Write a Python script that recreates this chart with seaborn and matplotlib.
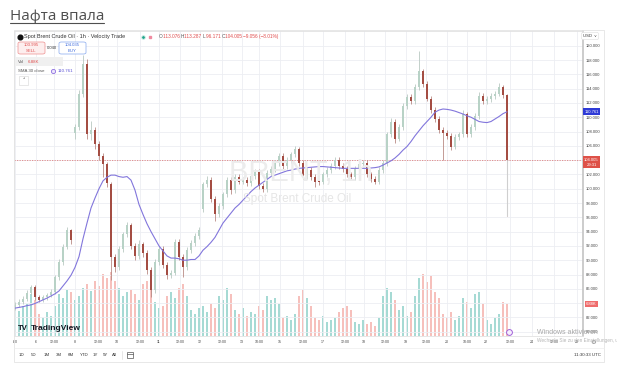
import numpy as np
import pandas as pd
import matplotlib
matplotlib.use("Agg")
import matplotlib.pyplot as plt
import matplotlib.transforms as mtransforms
from matplotlib.patches import Rectangle, FancyBboxPatch
from matplotlib.lines import Line2D
import seaborn as sns

# ---------------- data (2-hour candles) ----------------
opens = [83.4, 83.8, 84.2, 84.6, 85.4, 86.3, 84.9, 84.5, 84.8, 85.1,
         85.6, 87.6, 89.8, 91.8, 94.2, 107.8, 108.6, 113.2, 117.4, 107.6,
         108.2, 106.2, 104.6, 103.4, 100.6, 90.4, 89.0, 91.6, 93.6, 94.9,
         92.0, 90.6, 92.2, 91.0, 88.6, 85.8, 89.8, 91.6, 89.4, 88.0,
         88.2, 92.6, 90.4, 89.0, 91.4, 92.4, 93.4, 97.2, 100.6, 101.2,
         98.6, 96.4, 97.6, 99.2, 101.2, 99.8, 101.6, 101.0, 101.2, 100.8,
         101.8, 102.4, 100.4, 99.9, 102.2, 102.8, 103.6, 104.6, 103.2, 104.0,
         104.8, 105.6, 103.6, 101.8, 102.6, 101.6, 101.0, 100.9, 102.0, 102.6,
         103.2, 104.0, 103.2, 102.8, 102.0, 101.6, 102.8, 103.4, 103.6, 102.0,
         101.4, 101.0, 102.6, 103.6, 107.6, 109.4, 107.0, 108.6, 111.6, 112.8,
         112.2, 114.2, 116.4, 114.6, 112.6, 111.0, 109.8, 108.2, 107.8, 107.4,
         105.8, 107.2, 107.6, 110.4, 107.6, 108.6, 110.2, 113.0, 112.2, 112.5,
         113.0, 113.3, 114.2, 113.076]
highs = [84.2, 84.6, 85.0, 85.8, 86.6, 86.5, 85.2, 85.1, 85.4, 86.0,
         88.0, 90.2, 92.3, 94.6, 94.4, 109.0, 113.8, 118.7, 118.2, 109.5,
         108.6, 106.7, 105.0, 103.8, 101.0, 90.9, 92.0, 94.0, 95.3, 95.2,
         92.4, 92.8, 92.6, 91.4, 89.0, 90.2, 92.0, 92.0, 89.8, 88.7,
         93.0, 93.0, 90.8, 91.8, 92.8, 93.8, 94.6, 101.0, 101.8, 101.6,
         99.0, 98.0, 99.6, 101.7, 101.6, 102.1, 102.0, 101.7, 101.6, 102.2,
         102.8, 102.8, 100.8, 102.6, 103.2, 104.0, 105.0, 105.0, 104.4, 105.2,
         106.0, 105.9, 104.0, 103.0, 103.0, 102.0, 101.4, 102.4, 103.0, 103.6,
         104.5, 104.4, 103.6, 103.2, 102.4, 103.2, 103.8, 104.0, 104.0, 102.4,
         101.8, 103.0, 104.0, 108.0, 109.9, 109.7, 109.0, 112.0, 113.2, 113.2,
         114.6, 119.3, 116.8, 115.0, 113.0, 111.4, 110.2, 108.6, 108.2, 107.8,
         107.6, 108.0, 111.0, 110.8, 109.0, 110.6, 113.5, 113.4, 112.9, 113.4,
         113.7, 114.8, 114.5, 113.287]
lows = [83.0, 83.5, 83.9, 84.3, 85.1, 84.5, 84.1, 84.2, 84.5, 84.8,
        85.3, 87.3, 89.4, 91.5, 92.3, 107.0, 108.2, 112.8, 107.0, 106.8,
        105.6, 104.0, 101.7, 100.3, 87.2, 88.4, 88.6, 91.2, 93.2, 91.6,
        90.0, 90.2, 90.5, 88.1, 84.8, 85.4, 89.4, 88.9, 87.4, 87.5,
        87.9, 90.0, 87.6, 88.6, 91.0, 92.0, 93.0, 96.8, 100.2, 98.2,
        95.5, 96.0, 97.2, 98.8, 99.3, 99.4, 100.6, 100.6, 100.4, 100.4,
        101.4, 100.0, 99.5, 99.6, 101.8, 102.4, 103.2, 102.8, 102.8, 103.6,
        104.4, 103.2, 101.4, 101.4, 101.2, 100.3, 100.5, 100.6, 101.6, 102.2,
        102.8, 102.8, 102.4, 101.6, 101.2, 101.2, 102.4, 103.0, 101.6, 101.0,
        100.6, 100.7, 102.2, 103.2, 107.2, 106.4, 106.7, 108.2, 111.2, 111.8,
        111.8, 113.8, 114.2, 112.2, 110.6, 109.4, 107.8, 104.0, 107.0, 105.4,
        105.5, 106.8, 107.2, 107.2, 107.2, 108.2, 109.8, 111.8, 111.8, 112.1,
        112.6, 112.9, 112.7, 96.171]
closes = [83.8, 84.2, 84.6, 85.4, 86.3, 84.9, 84.5, 84.8, 85.1, 85.6,
          87.6, 89.8, 91.8, 94.2, 92.8, 108.6, 113.2, 117.4, 107.6, 108.2,
          106.2, 104.6, 103.4, 100.8, 90.4, 89.0, 91.6, 93.6, 94.9, 92.0,
          90.6, 92.2, 91.0, 88.6, 85.8, 89.8, 91.6, 89.4, 88.0, 88.2,
          92.6, 90.4, 89.0, 91.4, 92.4, 93.4, 94.2, 100.6, 101.2, 98.6,
          96.4, 97.6, 99.2, 101.2, 99.8, 101.6, 101.0, 101.2, 100.8, 101.8,
          102.4, 100.4, 99.9, 102.2, 102.8, 103.6, 104.6, 103.2, 104.0, 104.8,
          105.6, 103.6, 101.8, 102.6, 101.6, 101.0, 100.9, 102.0, 102.6, 103.2,
          104.0, 103.2, 102.8, 102.0, 101.6, 102.8, 103.4, 103.6, 102.0, 101.4,
          101.0, 102.6, 103.6, 107.6, 109.4, 107.0, 108.6, 111.6, 112.8, 112.2,
          114.2, 116.4, 114.6, 112.6, 111.0, 109.8, 108.2, 107.8, 107.4, 105.8,
          107.2, 107.6, 110.4, 107.6, 108.6, 110.2, 113.0, 112.2, 112.5, 113.0,
          113.3, 114.2, 113.1, 104.005]
volumes_k = [6.0, 5.4, 6.5, 6.9, 9.0, 7.7, 4.7, 3.9, 5.2, 4.3,
             6.5, 9.0, 8.2, 9.9, 9.5, 7.7, 8.6, 10.3, 11.2, 9.7,
             11.8, 10.8, 13.3, 12.5, 13.8, 11.8, 10.3, 8.6, 9.5, 9.9,
             9.0, 7.7, 11.2, 11.8, 10.8, 7.3, 6.0, 6.5, 8.6, 9.5,
             8.2, 10.3, 11.2, 8.6, 5.6, 4.7, 6.0, 6.5, 5.2, 6.9,
             6.0, 8.6, 7.7, 10.3, 9.0, 5.6, 4.7, 6.0, 4.3, 5.2,
             4.7, 6.5, 5.6, 8.6, 7.7, 8.2, 6.9, 3.9, 4.3, 3.4,
             4.7, 8.6, 9.9, 8.2, 6.5, 3.9, 3.4, 4.3, 3.0, 3.4,
             3.9, 5.2, 6.0, 6.5, 5.6, 3.0, 2.6, 3.4, 2.6, 3.0,
             2.2, 3.9, 8.6, 10.3, 9.5, 7.7, 5.6, 6.5, 4.3, 5.2,
             8.6, 12.5, 13.3, 11.6, 12.9, 9.5, 8.2, 4.7, 3.9, 5.2,
             3.4, 4.3, 8.2, 7.3, 6.0, 9.0, 9.5, 6.9, 3.4, 2.6,
             3.9, 4.7, 7.3, 6.88]
sma30 = [83.3, 83.4, 83.5, 83.65, 83.75, 83.95, 84.2, 84.45, 84.7, 85.0,
         85.3, 85.7, 86.4, 87.1, 87.9, 89.0, 90.5, 93.0, 95.2, 97.3,
         98.7, 100.0, 101.1, 101.6, 101.9, 101.9, 101.7, 101.6, 101.7, 101.2,
         99.8, 97.8, 96.4, 95.1, 94.0, 93.0, 92.0, 91.3, 90.6, 90.3,
         90.3, 90.2, 90.0, 90.0, 90.1, 90.1, 90.6, 91.4, 91.9, 92.5,
         93.2, 94.2, 95.2, 95.9, 96.6, 97.3, 97.8, 98.4, 99.0, 99.6,
         100.1, 100.5, 100.9, 101.3, 101.7, 101.9, 102.1, 102.3, 102.5, 102.6,
         102.75, 102.85, 102.9, 102.95, 103.0, 103.05, 103.1, 103.1, 103.05, 103.0,
         102.95, 102.9, 102.85, 102.85, 102.85, 102.85, 102.85, 102.85, 102.85, 102.9,
         102.95, 103.05, 103.3, 103.6, 103.9, 104.3, 104.8, 105.4, 105.9, 106.6,
         107.4, 108.1, 108.8, 109.4, 110.0, 110.7, 111.0, 111.15, 111.1, 111.0,
         110.85, 110.65, 110.45, 110.2, 110.0, 109.7, 109.4, 109.3, 109.25, 109.4,
         109.75, 110.1, 110.5, 110.761]

price_ticks = [80, 82, 84, 86, 88, 90, 92, 94, 96, 98, 100,
               102, 104, 106, 108, 110, 112, 114, 116, 118, 120]
hidden_ticks = [84, 104]   # covered by the volume / last-price tags
time_labels = [":00", "6", "12:00", "8", "12:00", "10", "12:00", "11", "12:00",
               "12", "12:00", "13", "10:00", "15", "12:00", "17", "12:00", "18",
               "12:00", "19", "12:00", "20", "10:00", "22", "12:00", "24",
               "12:00", "29"]
time_pos = [0.0, 5.2, 9.75, 15.0, 20.75, 25.5, 31.25, 36.0, 41.25,
            46.25, 51.75, 56.75, 61.0, 66.25, 72.0, 77.0, 82.5, 87.25,
            92.5, 97.75, 102.75, 108.0, 113.0, 117.75, 123.75, 129.25,
            134.75, 140.5]
range_buttons = ["1D", "5D", "1M", "3M", "6M", "YTD", "1Y", "5Y", "All"]

# ---------------- style ----------------
sns.set_theme(style="white")
plt.rcParams["font.family"] = ["Liberation Sans", "DejaVu Sans"]

W, H = 617, 377
fig = plt.figure(figsize=(W / 100, H / 100), dpi=100)
fig.patch.set_facecolor("white")


def fx(x):
    return x / W


def fy(y):
    return 1 - y / H


L, R, T, B = 14, 583, 31, 336
rect = [fx(L), fy(B), fx(R) - fx(L), fy(T) - fy(B)]
ax_v = fig.add_axes(rect)
ax = fig.add_axes(rect)
ax.patch.set_alpha(0)

o = np.array(opens)
c = np.array(closes)
h = np.array(highs)
lo = np.array(lows)
idx = np.arange(len(c))
up = c >= o

UP_BODY, DN_BODY = "#b8d2c6", "#a44d43"
UP_WICK, DN_WICK = "#b9c9c2", "#b98a84"

# ---------------- volume (seaborn barplot) ----------------
vdf = pd.DataFrame({"idx": idx, "vol": volumes_k,
                    "dir": np.where(up, "up", "down")})
sns.barplot(data=vdf, x="idx", y="vol", hue="dir",
            palette={"up": "#a6dad4", "down": "#f6c0bc"},
            native_scale=True, dodge=False, width=0.6, saturation=1,
            errorbar=None, legend=False, linewidth=0, ax=ax_v)
ax_v.set_xlim(-0.25, 142)
ax_v.set_ylim(0, 65.6)
ax_v.axis("off")

# ---------------- candles ----------------
ax.vlines(idx, lo, h, colors=np.where(up, UP_WICK, DN_WICK), lw=0.6, zorder=3)
ax.vlines(idx[-1:], lo[-1:], np.minimum(o, c)[-1:], colors="#cfcfcf", lw=0.8, zorder=3)
ax.bar(idx, np.maximum(np.abs(c - o), 0.15), bottom=np.minimum(o, c), width=0.45,
       color=np.where(up, UP_BODY, DN_BODY), linewidth=0, zorder=4)

# SMA 30
sns.lineplot(x=idx, y=sma30, ax=ax, color="#8276dc", lw=0.8, zorder=5)

ax.axhline(closes[-1], color="#e08080", lw=0.6, ls=(0, (1.5, 1.5)), zorder=2)

ax.set_xlim(-0.25, 142)
ax.set_ylim(79.4, 122.06)
ax.set_yticks(price_ticks)
ax.set_yticklabels(["" if v in hidden_ticks else f"{v:.3f}" for v in price_ticks])
ax.yaxis.tick_right()
ax.tick_params(axis="y", length=0, pad=2.2, labelsize=3.0, labelcolor="#444444")
ax.set_xticks(time_pos)
ax.set_xticklabels(time_labels)
ax.tick_params(axis="x", length=0, pad=2.6, labelsize=2.6, labelcolor="#444444")
ax.grid(True, color="#eceef2", lw=0.6)
ax.set_axisbelow(True)
ax.set_xlabel("")
ax.set_ylabel("")
for side, sp in ax.spines.items():
    sp.set_color("#e2e2e2")
    sp.set_linewidth(0.6)
ax.spines["right"].set_color("#c4c4c4")
ax.spines["right"].set_linewidth(1.2)

# watermark
fig.text(fx(301), fy(173), "BRENT, 1h", fontsize=21, color="#ececec",
         ha="center", va="center", zorder=0)
fig.text(fx(297), fy(199), "Spot Brent Crude Oil", fontsize=8.5, color="#e6e6e6",
         ha="center", va="center", zorder=0)

# price-scale tags
tr_p = mtransforms.blended_transform_factory(fig.transFigure, ax.transData)
fig.text(fx(591.5), sma30[-1], f"{sma30[-1]:.3f}", transform=tr_p, fontsize=3.0,
         color="white", ha="center", va="center", zorder=10,
         bbox=dict(boxstyle="square,pad=0.35", fc="#2e3ad6", ec="none"))
tr_p2 = mtransforms.offset_copy(tr_p, fig=fig, y=-2, units="dots")
fig.text(fx(591.5), closes[-1], f"{closes[-1]:.3f}\n29:31", transform=tr_p2,
         fontsize=3.0, color="white", ha="center", va="center", zorder=10,
         linespacing=1.3,
         bbox=dict(boxstyle="square,pad=0.35", fc="#de5148", ec="none"))
tr_v = mtransforms.blended_transform_factory(fig.transFigure, ax_v.transData)
fig.text(fx(591.5), volumes_k[-1], f"{volumes_k[-1]:.2f}K", transform=tr_v,
         fontsize=3.0, color="white", ha="center", va="center", zorder=10,
         bbox=dict(boxstyle="square,pad=0.35", fc="#ef6b6b", ec="none"))
fig.text(fx(590), fy(36), "USD  \u02c5", fontsize=3.0, color="#333333",
         ha="center", va="center",
         bbox=dict(boxstyle="round,pad=0.4", fc="white", ec="#dddddd", lw=0.4))

# widget frame
fig.add_artist(Rectangle((fx(14), fy(362)), fx(604) - fx(14), fy(30) - fy(362),
                         transform=fig.transFigure, fill=False, ec="#e4e4e4", lw=0.6))
fig.add_artist(Line2D([fx(14), fx(604)], [fy(348), fy(348)],
                      transform=fig.transFigure, color="#ededed", lw=0.5))

# ---------------- title ----------------
title = fig.text(fx(9.5), fy(19.5), "Нафта впала", fontsize=11,
                 family=["Open Sans", "DejaVu Sans"], color="#4f4f4f",
                 ha="left", va="baseline")
fig.canvas.draw()
renderer = fig.canvas.get_renderer()
bb = title.get_window_extent(renderer)
fig.add_artist(Line2D([bb.x0 / W, bb.x1 / W], [fy(22.8), fy(22.8)],
                      transform=fig.transFigure, color="#4f4f4f", lw=0.8))


def seq_text(x, y, parts, size):
    """place consecutive text pieces (string, colour) from pixel x"""
    cur = x
    for s, col in parts:
        t = fig.text(fx(cur), fy(y), s, fontsize=size, color=col,
                     ha="left", va="center")
        cur += t.get_window_extent(renderer).width
    return cur


# ---------------- legend overlay ----------------
fig.add_artist(Line2D([fx(20)], [fy(36.5)], marker="o", ms=3.4, color="#111111",
                      transform=fig.transFigure))
fig.text(fx(24.5), fy(36.5), "Spot Brent Crude Oil \u00b7 1h \u00b7 Velocity Trade",
         fontsize=4.0, color="#333333", ha="left", va="center")
fig.add_artist(Line2D([fx(143)], [fy(36.5)], marker="o", ms=2.6, mfc="#1fa38a",
                      mec="#cfeee8", mew=0.6, transform=fig.transFigure))
fig.add_artist(Line2D([fx(150)], [fy(36.5)], marker="s", ms=2.0, mfc="#f08aa0",
                      mec="#f08aa0", transform=fig.transFigure))
red = "#e04c4c"
grey = "#555555"
seq_text(159, 36.5, [("O", grey), (f"{opens[-1]:.3f} ", red),
                     ("H", grey), (f"{highs[-1]:.3f} ", red),
                     ("L", grey), (f"{lows[-1]:.3f} ", red),
                     ("C", grey), (f"{closes[-1]:.3f} ", red),
                     ("\u22129.056 (\u22128.01%)", red)], 3.4)

# sell / buy boxes
fig.add_artist(FancyBboxPatch((fx(18), fy(54)), fx(27), fx(12) * W / H,
                              boxstyle="round,pad=0,rounding_size=0.004",
                              transform=fig.transFigure, fc="#fdeeee", ec="#ee8f8f", lw=0.5))
fig.text(fx(31.5), fy(45.5), "103.995", fontsize=3.1, color=red, ha="center", va="center")
fig.text(fx(31.5), fy(51), "SELL", fontsize=3.1, color=red, ha="center", va="center")
fig.text(fx(51.5), fy(48), "0.040", fontsize=3.0, color="#333333", ha="center", va="center")
fig.add_artist(FancyBboxPatch((fx(59), fy(54)), fx(27), fx(12) * W / H,
                              boxstyle="round,pad=0,rounding_size=0.004",
                              transform=fig.transFigure, fc="white", ec="#86a8ee", lw=0.5))
fig.text(fx(72.5), fy(45.5), "104.035", fontsize=3.1, color="#3a68dd", ha="center", va="center")
fig.text(fx(72.5), fy(51), "BUY", fontsize=3.1, color="#3a68dd", ha="center", va="center")

# volume row
fig.add_artist(Rectangle((fx(15), fy(66)), fx(48), fy(57) - fy(66),
                         transform=fig.transFigure, fc="#f0f0f0", ec="none"))
fig.text(fx(18), fy(61.8), "Vol", fontsize=3.2, color=grey, ha="left", va="center")
fig.text(fx(28), fy(61.8), f"{volumes_k[-1]:.2f}K", fontsize=3.2, color=red,
         ha="left", va="center")

# SMA row
fig.text(fx(18), fy(70.6), "SMA 30 close", fontsize=3.2, color=grey, ha="left", va="center")
fig.add_artist(Line2D([fx(52.5)], [fy(70.6)], marker="o", ms=3.0, mfc="#ece6fb",
                      mec="#8e6fe0", mew=0.6, transform=fig.transFigure))
fig.text(fx(58), fy(70.6), f"{sma30[-1]:.3f}", fontsize=3.2, color="#5b52d6",
         ha="left", va="center")

fig.add_artist(Rectangle((fx(19), fy(85)), fx(9), fy(76) - fy(85),
                         transform=fig.transFigure, fc="white", ec="#dddddd", lw=0.5))
fig.text(fx(23.5), fy(80.8), "\u02c4", fontsize=3.6, color="#333333",
         ha="center", va="center", family=["DejaVu Sans"])

# bottom-left logo
fig.text(fx(18), fy(328), "TV", fontsize=5.6, color="#131722", weight="heavy",
         ha="left", va="center")
fig.text(fx(30.5), fy(328), "TradingView", fontsize=6.0, color="#131722",
         weight="bold", ha="left", va="center")

# last-bar icon and gear
fig.add_artist(Line2D([fx(508.5)], [fy(332)], marker="o", ms=4.2, mfc="#f6effd",
                      mec="#a160d8", mew=0.7, transform=fig.transFigure))
fig.text(fx(593), fy(342), "\u2699", fontsize=4.6, color="#777777",
         ha="center", va="center", family=["DejaVu Sans"])

# bottom toolbar
btn_x = [22, 34, 46.6, 59, 71, 84.5, 95.6, 105.6, 114.7]
for s, xb in zip(range_buttons, btn_x):
    fig.text(fx(xb), fy(355), s, fontsize=3.2, color="#333333", ha="center", va="center")
fig.add_artist(Line2D([fx(121.5), fx(121.5)], [fy(351), fy(359)],
                      transform=fig.transFigure, color="#dddddd", lw=0.5))
# calendar icon (drawn shape)
fig.add_artist(Rectangle((fx(127), fy(358)), fx(6), fy(352) - fy(358),
                         transform=fig.transFigure, fill=False, ec="#555555", lw=0.5))
fig.add_artist(Line2D([fx(127), fx(133)], [fy(353.8), fy(353.8)],
                      transform=fig.transFigure, color="#555555", lw=0.5))
fig.text(fx(601), fy(355), "11:30:33 UTC", fontsize=3.2, color="#333333",
         ha="right", va="center")

# OS activation watermark
fig.text(fx(537), fy(332), "Windows aktivieren", fontsize=5.0, color="#a9a9a9",
         ha="left", va="center", zorder=20)
fig.text(fx(537), fy(340.5), "Wechseln Sie zu den Einstellungen, um Windows zu aktivieren.",
         fontsize=3.4, color="#b5b5b5", ha="left", va="center", zorder=20)

fig.savefig("out.png", dpi=100, facecolor="white")
